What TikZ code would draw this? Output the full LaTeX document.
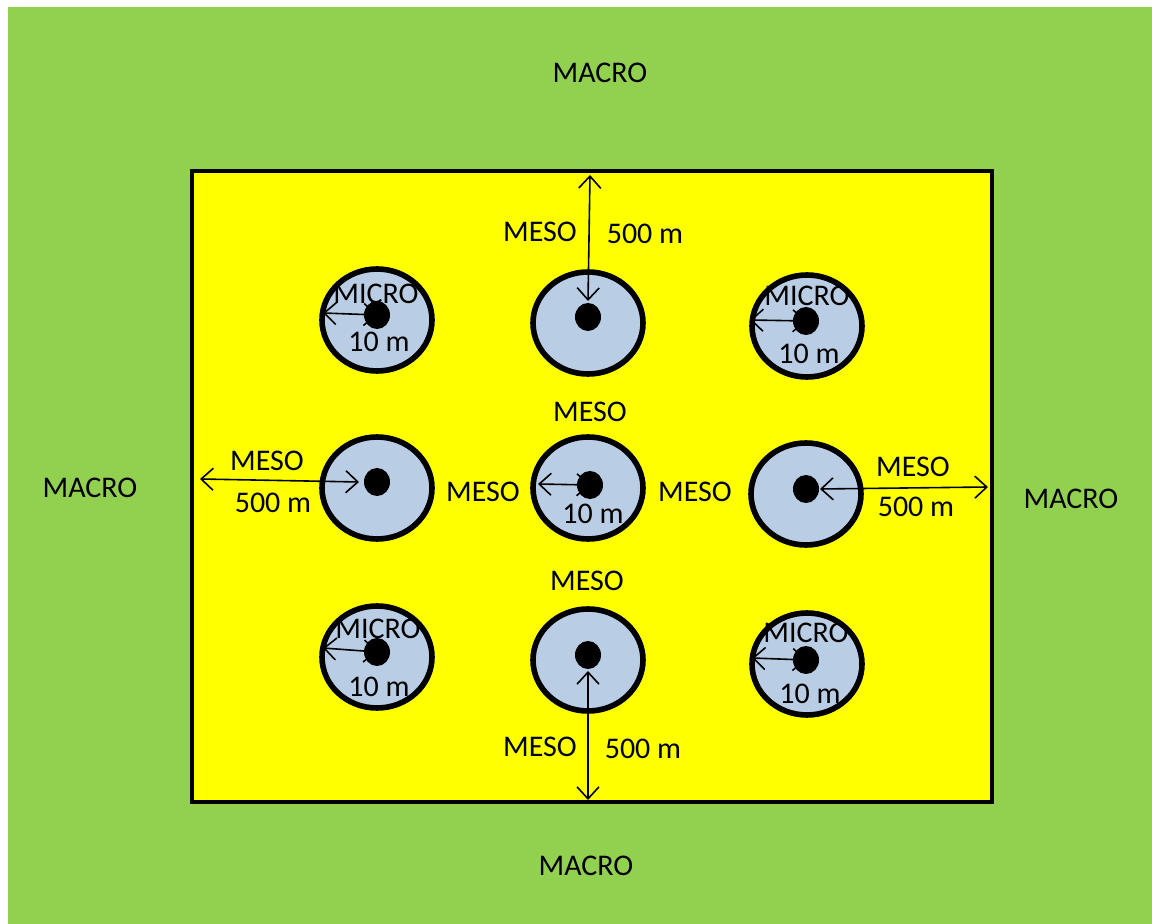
\documentclass[tikz,border=0pt]{standalone}
\usepackage{fontspec}
\setmainfont{Carlito}
\usetikzlibrary{shapes.geometric,arrows.meta}
\definecolor{macrogreen}{HTML}{92D050}
\definecolor{mesoyellow}{HTML}{FFFF00}
\definecolor{microblue}{HTML}{B9CDE5}
\tikzset{
  x=0.5pt,y=-0.5pt,
  lbl/.style={font=\fontsize{15}{17}\selectfont,inner sep=0pt},
  zone/.style={ellipse,draw=black,line width=2.8pt,fill=microblue,minimum width=55pt,minimum height=51pt,inner sep=0pt},
  dot/.style={ellipse,fill=black,minimum width=13pt,minimum height=14pt,inner sep=0pt},
  dim/.style={line width=0.8pt,{Straight Barb[length=6pt,width=11pt]}-{Straight Barb[length=6pt,width=11pt]}},
}
\begin{document}
\begin{tikzpicture}
\useasboundingbox (0,0) rectangle (1152,924);
\fill[macrogreen] (8,7) rectangle (1152,924);
\node[draw=black,line width=2.2pt,fill=mesoyellow,minimum width=400pt,minimum height=315.5pt,inner sep=0pt] (meso) at (592,486.5) {};
% zones
\node[zone] (z11) at (377,320) {};
\node[zone] (z12) at (588,323) {};
\node[zone] (z13) at (807,326) {};
\node[zone] (z21) at (377,488) {};
\node[zone] (z22) at (588,488) {};
\node[zone] (z23) at (806,494) {};
\node[zone] (z31) at (377,657) {};
\node[zone] (z32) at (588,660) {};
\node[zone] (z33) at (807,664) {};
% coordinates for arrow ends
\coordinate (e11) at (323,313);
\coordinate (e13) at (750,320);
\coordinate (e31) at (323,648);
\coordinate (e33) at (752,658);
\coordinate (e22) at (538,484);
\coordinate (top) at (590,175);
\coordinate (bot) at (588,800);
\coordinate (lft) at (200,479);
\coordinate (rgt) at (988,487);
% dot positions
\coordinate (p11) at (377,315);
\coordinate (p12) at (588,317);
\coordinate (p13) at (806,321);
\coordinate (p21) at (377,482);
\coordinate (p22) at (590,485);
\coordinate (p23) at (806,489);
\coordinate (p31) at (377,652);
\coordinate (p32) at (588,655);
\coordinate (p33) at (806,660);
% arrows
\draw[dim] (p11) -- (e11);
\draw[dim] (p13) -- (e13);
\draw[dim] (p31) -- (e31);
\draw[dim] (p33) -- (e33);
\draw[dim] (p22) -- (e22);
\draw[dim] (top) -- ([yshift=8pt]p12);
\draw[dim] (bot) -- ([yshift=-8pt]p32);
\draw[dim] (lft) -- ([xshift=-9pt]p21);
\draw[dim] (rgt) -- ([xshift=7pt]p23);
% dots
\foreach \p in {11,12,13,21,22,23,31,32,33} \node[dot] (d\p) at (p\p) {};
% labels
\node[lbl] (macroT) at (600,73) {MACRO};
\node[lbl] (macroL) at (90,488) {MACRO};
\node[lbl] (macroR) at (1071,499) {MACRO};
\node[lbl] (macroB) at (586,866) {MACRO};
\node[lbl] (mesoT) at (540,232) {MESO};
\node[lbl] (mT) at (645,234) {500 m};
\node[lbl] (mesoB) at (540,747) {MESO};
\node[lbl] (mB) at (643,749) {500 m};
\node[lbl] (mesoL) at (267,461) {MESO};
\node[lbl] (mL) at (273,503) {500 m};
\node[lbl] (mesoR) at (913,467) {MESO};
\node[lbl] (mR) at (916,507) {500 m};
\node[lbl] (mesoC1) at (590,412) {MESO};
\node[lbl] (mesoC2) at (587,581) {MESO};
\node[lbl] (mesoC3) at (483,492) {MESO};
\node[lbl] (mesoC4) at (695,492) {MESO};
\node[lbl] (tC) at (593,514) {10 m};
\node[lbl] (mi11) at (376,294) {MICRO};
\node[lbl] (t11) at (379,342) {10 m};
\node[lbl] (mi13) at (807,296) {MICRO};
\node[lbl] (t13) at (809,354) {10 m};
\node[lbl] (mi31) at (378,629) {MICRO};
\node[lbl] (t31) at (379,687) {10 m};
\node[lbl] (mi33) at (806,633) {MICRO};
\node[lbl] (t33) at (810,694) {10 m};
\end{tikzpicture}
\end{document}
